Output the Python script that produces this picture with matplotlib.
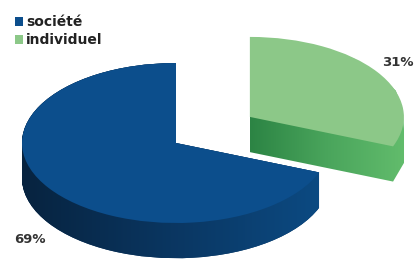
# -*- coding:UTF-8 -*-
import numpy as np
import matplotlib
matplotlib.use('Agg')
import matplotlib.pyplot as plt
from matplotlib.patches import Polygon, PathPatch
from matplotlib.path import Path
from matplotlib.colors import LinearSegmentedColormap

# donnees
labels = ['société', 'individuel']
values = [69, 31]

# couleurs
top_colors = ['#0c4e8c', '#8cc888']
blue_side = LinearSegmentedColormap.from_list('bside', ['#07233f', '#0a3661', '#0c4a82'])
green_side = LinearSegmentedColormap.from_list('gside', ['#2c8444', '#4aa55c', '#62bc6c'])

plt.rcParams['font.family'] = ['DejaVu Sans']

fig = plt.figure(figsize=(4.18, 2.60), dpi=100)
ax = fig.add_axes([0, 0, 1, 1])

explode = [0, 0.58]
depth = 0.44      # epaisseur du camembert (unites donnees)
nlayers = 36

# flanc bleu : empilement de camemberts decales vers le bas
layer_paths = []
for i in range(nlayers):
    t = i / (nlayers - 1)
    off = -depth * (1 - t)
    w, _ = ax.pie(values, startangle=90, explode=explode, center=(0, off),
                  colors=['#0a3661', '#0a3661'], wedgeprops=dict(linewidth=0))
    w[0].set_zorder(3)
    w[1].set_visible(False)
    layer_paths.append(w[0].get_path())

# face superieure
top, _ = ax.pie(values, startangle=90, explode=explode, colors=top_colors,
                wedgeprops=dict(linewidth=0))
top[0].set_zorder(5)
top[1].set_zorder(2)

# degrade horizontal du flanc bleu, clippe a l'union des couches
bpts = np.vstack([p.vertices for p in layer_paths])
grad = np.tile(np.linspace(0, 1, 256), (2, 1))
imb = ax.imshow(grad, cmap=blue_side, extent=(bpts[:, 0].min(), bpts[:, 0].max(),
                bpts[:, 1].min(), bpts[:, 1].max()), aspect='auto', zorder=4,
                interpolation='bilinear')
clipb = PathPatch(Path.make_compound_path(*layer_paths), transform=ax.transData)
imb.set_clip_path(clipb)

# flanc vert : degrade horizontal clippe a l'enveloppe convexe du solide
def hull(pts):
    pts = sorted(set(map(tuple, pts)))
    def cross(o, a, b):
        return (a[0]-o[0])*(b[1]-o[1]) - (a[1]-o[1])*(b[0]-o[0])
    lower, upper = [], []
    for p in pts:
        while len(lower) >= 2 and cross(lower[-2], lower[-1], p) <= 0:
            lower.pop()
        lower.append(p)
    for p in reversed(pts):
        while len(upper) >= 2 and cross(upper[-2], upper[-1], p) <= 0:
            upper.pop()
        upper.append(p)
    return np.array(lower[:-1] + upper[:-1])

gpts = np.vstack(top[1].get_path().to_polygons())
allpts = np.vstack([gpts - [0, 0.02], gpts - [0, depth]])
h = hull(np.round(allpts, 6))
x0, x1 = allpts[:, 0].min(), allpts[:, 0].max()
y0, y1 = allpts[:, 1].min(), allpts[:, 1].max()
img = ax.imshow(grad, cmap=green_side, extent=(x0, x1, y0, y1), aspect='auto',
                zorder=1, interpolation='bilinear')
img.set_clip_path(Polygon(h, closed=True, transform=ax.transData))

# etiquettes de pourcentage
ax.text(1.44, 1.01, '%d%%' % values[1], ha='center', va='center',
        fontsize=9.5, fontweight='bold', color='#333333', zorder=6)
ax.text(-0.95, -1.21, '%d%%' % values[0], ha='center', va='center',
        fontsize=9.5, fontweight='bold', color='#333333', zorder=6)

ax.set_aspect('auto')
ax.set_xlim(-176 / 154.0, 242 / 154.0)
ax.set_ylim(-117 / 80.0, 143 / 80.0)
ax.axis('off')

# legende
leg = fig.legend(top, labels, loc='upper left', bbox_to_anchor=(15 / 418.0, 1 - 15 / 260.0),
                 frameon=False, borderpad=0, borderaxespad=0, handlelength=0.6,
                 handleheight=0.6, handletextpad=0.2, labelspacing=0.3,
                 prop=dict(size=10, weight='bold'))
for t in leg.get_texts():
    t.set_color('#222222')

fig.savefig('out.png', dpi=100, facecolor='white')
